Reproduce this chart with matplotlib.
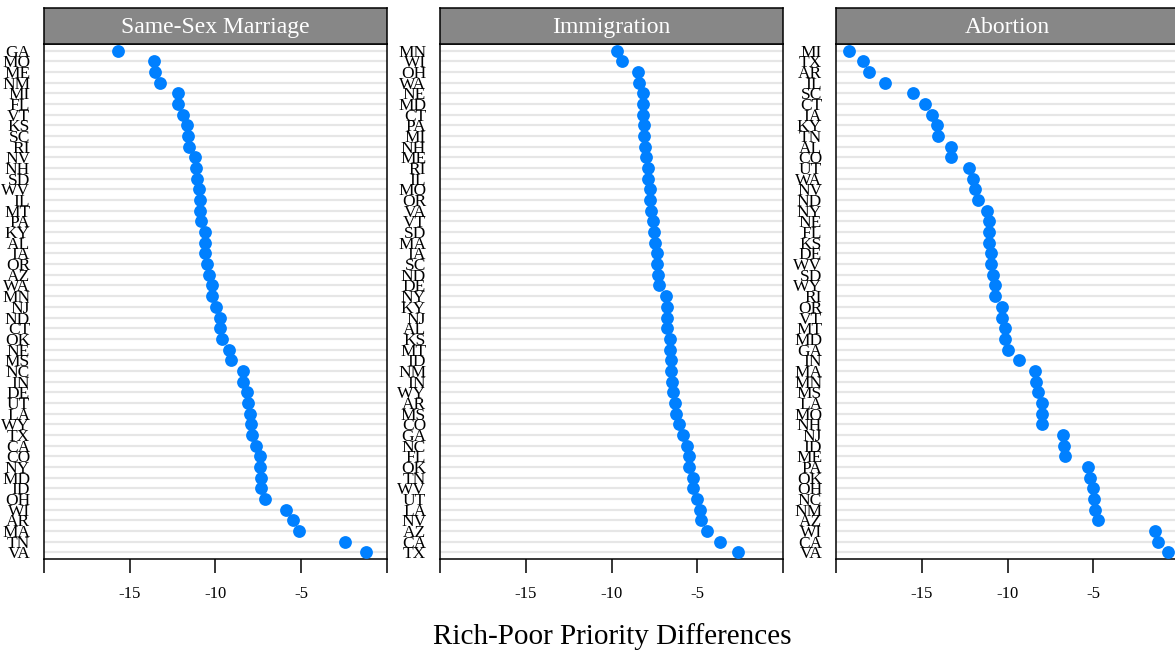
import matplotlib
matplotlib.use("Agg")
import matplotlib.pyplot as plt

plt.rcParams['font.family'] = ['Liberation Serif', 'DejaVu Serif']

panel_titles = ["Same-Sex Marriage", "Immigration", "Abortion"]

ssm_states = ["GA","MO","ME","NM","MI","FL","VT","KS","SC","RI","NV","NH","SD","WV","IL","MT",
              "PA","KY","AL","IA","OR","AZ","WA","MN","NJ","ND","CT","OK","NE","MS","NC","IN",
              "DE","UT","LA","WY","TX","CA","CO","NY","MD","ID","OH","WI","AR","MA","TN","VA"]
ssm_values = [-15.67,-13.57,-13.54,-13.21,-12.16,-12.16,-11.90,-11.65,-11.63,-11.55,-11.17,-11.11,
              -11.09,-10.95,-10.91,-10.90,-10.87,-10.64,-10.60,-10.60,-10.51,-10.39,-10.20,-10.18,
              -9.98,-9.73,-9.71,-9.62,-9.24,-9.07,-8.39,-8.37,-8.18,-8.12,-7.96,-7.92,-7.89,-7.61,
              -7.42,-7.38,-7.36,-7.32,-7.13,-5.91,-5.48,-5.15,-2.45,-1.25]

imm_states = ["MN","WI","OH","WA","NE","MD","CT","PA","MI","NH","ME","RI","IL","MO","OR","VA",
              "VT","SD","MA","IA","SC","ND","DE","NY","KY","NJ","AL","KS","MT","ID","NM","IN",
              "WY","AR","MS","CO","GA","NC","FL","OK","TN","WV","UT","LA","NV","AZ","CA","TX"]
imm_values = [-9.69,-9.40,-8.47,-8.39,-8.16,-8.14,-8.14,-8.12,-8.08,-8.06,-8.00,-7.87,-7.85,-7.77,
              -7.73,-7.67,-7.56,-7.52,-7.46,-7.36,-7.32,-7.30,-7.24,-6.82,-6.78,-6.76,-6.74,-6.56,
              -6.56,-6.53,-6.51,-6.47,-6.43,-6.31,-6.25,-6.06,-5.83,-5.61,-5.51,-5.49,-5.26,-5.22,
              -4.99,-4.85,-4.76,-4.41,-3.65,-2.62]

abo_states = ["MI","TX","AR","IL","SC","CT","IA","KY","TN","AL","CO","UT","WA","NV","ND","NY",
              "NE","FL","KS","DE","WV","SD","WY","RI","OR","VT","MT","MD","GA","IN","MA","MN",
              "MS","LA","MO","NH","NJ","ID","ME","PA","OK","OH","NC","NM","AZ","WI","CA","VA"]
abo_values = [-19.24,-18.43,-18.08,-17.12,-15.49,-14.81,-14.39,-14.11,-14.05,-13.32,-13.28,-12.27,
              -12.00,-11.88,-11.72,-11.20,-11.08,-11.06,-11.06,-10.95,-10.95,-10.85,-10.75,-10.71,
              -10.34,-10.30,-10.15,-10.13,-9.97,-9.33,-8.40,-8.32,-8.23,-7.97,-7.97,-7.97,-6.75,
              -6.71,-6.65,-5.31,-5.20,-5.02,-4.96,-4.88,-4.71,-1.41,-1.21,-0.65]

x_ticks = [-20, -15, -10, -5, 0]
x_tick_labels = ["", "-15", "-10", "-5", ""]
x_label = "Rich-Poor Priority Differences"

panels = [(ssm_states, ssm_values), (imm_states, imm_values), (abo_states, abo_values)]

W, H = 1175, 656
fig = plt.figure(figsize=(W / 100, H / 100), dpi=100)
fig.patch.set_facecolor('white')

lefts = [44, 440, 836]
pw = 343
top_px, bot_px = 44, 559
strip_top = 8

dot_color = '#0080FF'
for i, (states, vals) in enumerate(panels):
    l = lefts[i]
    ax = fig.add_axes([l / W, (H - bot_px) / H, pw / W, (bot_px - top_px) / H])
    n = len(states)
    ypos = list(range(n))
    ax.set_yticks(ypos)
    ax.set_yticklabels(states, fontsize=12.5)
    ax.grid(axis='y', color='#e6e6e6', linewidth=1.6, zorder=0)
    ax.set_axisbelow(True)
    ax.scatter(vals, ypos, s=85, color=dot_color, zorder=3, linewidths=0)
    ax.set_ylim(n - 1 + 0.62, -0.62)
    ax.set_xlim(-20, 0)
    ax.set_xticks(x_ticks)
    ax.set_xticklabels(x_tick_labels, fontsize=12)
    ax.tick_params(axis='x', direction='out', length=10, width=1.1, pad=9.5, colors='black')
    ax.tick_params(axis='y', length=0, pad=10)
    for s in ax.spines.values():
        s.set_linewidth(1.1)
        s.set_color('black')
    # strip
    sax = fig.add_axes([l / W, (H - top_px) / H, pw / W, (top_px - strip_top) / H])
    sax.set_facecolor('#878787')
    sax.set_xticks([])
    sax.set_yticks([])
    for s in sax.spines.values():
        s.set_linewidth(1.1)
        s.set_color('black')
    sax.text(0.5, 0.47, panel_titles[i], color='white', fontsize=17,
             ha='center', va='center', transform=sax.transAxes)

fig.text(612 / W, 1 - 637 / H, x_label, fontsize=21, ha='center', va='center')

fig.savefig('out.png', dpi=100)
